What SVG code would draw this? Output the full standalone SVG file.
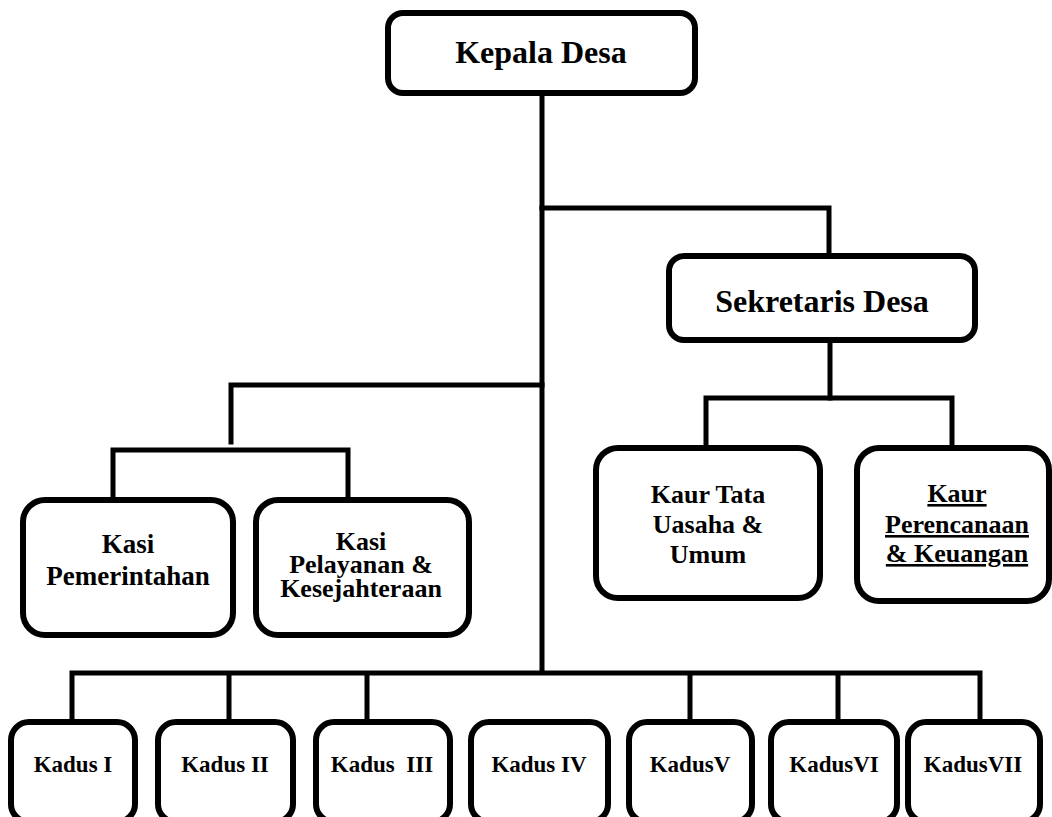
<svg xmlns="http://www.w3.org/2000/svg" width="1052" height="817" viewBox="0 0 1052 817">
<style>
.box{fill:#fff;stroke:#000;stroke-width:6}
.ln{fill:none;stroke:#000;stroke-width:5;stroke-linejoin:miter;stroke-linecap:square}
text{font-family:"Liberation Serif","Times New Roman",serif;font-weight:bold;fill:#000;text-anchor:middle}
.t32{font-size:32px}
.t27{font-size:27px}
.t26{font-size:26px}
.t23{font-size:23px}
.u{text-decoration:underline}
</style>
<rect width="1052" height="817" fill="#fff"/>
<g id="connectors">
<path class="ln" d="M542,93 V672"/>
<path class="ln" d="M542,208 H829 V255"/>
<path class="ln" d="M830,340 V398"/>
<path class="ln" d="M706,398 H952 M706,398 V448 M952,398 V448"/>
<path class="ln" d="M542,385 H231 V442"/>
<path class="ln" d="M113,450 H348 M113,450 V500 M348,450 V500"/>
<path class="ln" d="M72,673 H980 M72,673 V722 M229,673 V722 M367,673 V722 M690,673 V722 M838,673 V722 M980,673 V722"/>
</g>
<g id="kepala"><rect class="box" x="388" y="13" width="307" height="80" rx="15"/><text class="t32" x="541" y="63">Kepala Desa</text></g>
<g id="sekretaris"><rect class="box" x="669" y="256" width="306" height="84" rx="15"/><text class="t32" x="822" y="312">Sekretaris Desa</text></g>
<g id="kaur-tata"><rect class="box" x="596" y="448" width="224" height="150" rx="22"/><text class="t26" x="708" y="503">Kaur Tata</text><text class="t26" x="708" y="533">Uasaha &amp;</text><text class="t26" x="708" y="563">Umum</text></g>
<g id="kaur-perencanaan"><rect class="box" x="857" y="448" width="192" height="153" rx="22"/><text class="t26 u" x="957" y="502">Kaur</text><text class="t26 u" x="957" y="533">Perencanaan</text><text class="t26 u" x="957" y="562">&amp; Keuangan</text></g>
<g id="kasi-pemerintahan"><rect class="box" x="23" y="500" width="210" height="135" rx="22"/><text class="t27" x="128" y="553">Kasi</text><text class="t27" x="128" y="585">Pemerintahan</text></g>
<g id="kasi-pelayanan"><rect class="box" x="256" y="500" width="213" height="135" rx="22"/><text class="t26" x="361" y="550">Kasi</text><text class="t26" x="361" y="573">Pelayanan &amp;</text><text class="t26" x="361" y="597">Kesejahteraan</text></g>
<g id="kadus1"><rect class="box" x="11" y="722" width="124" height="100" rx="18"/><text class="t23" x="73" y="772">Kadus I</text></g>
<g id="kadus2"><rect class="box" x="158" y="722" width="135" height="100" rx="18"/><text class="t23" x="225" y="772">Kadus II</text></g>
<g id="kadus3"><rect class="box" x="316" y="722" width="134" height="100" rx="18"/><text class="t23" x="382" y="772" xml:space="preserve">Kadus  III</text></g>
<g id="kadus4"><rect class="box" x="471" y="722" width="137" height="100" rx="18"/><text class="t23" x="539" y="772">Kadus IV</text></g>
<g id="kadus5"><rect class="box" x="629" y="722" width="123" height="100" rx="18"/><text class="t23" x="690" y="772">KadusV</text></g>
<g id="kadus6"><rect class="box" x="771" y="722" width="126" height="100" rx="18"/><text class="t23" x="834" y="772">KadusVI</text></g>
<g id="kadus7"><rect class="box" x="908" y="722" width="132" height="100" rx="18"/><text class="t23" x="973" y="772">KadusVII</text></g>
</svg>
